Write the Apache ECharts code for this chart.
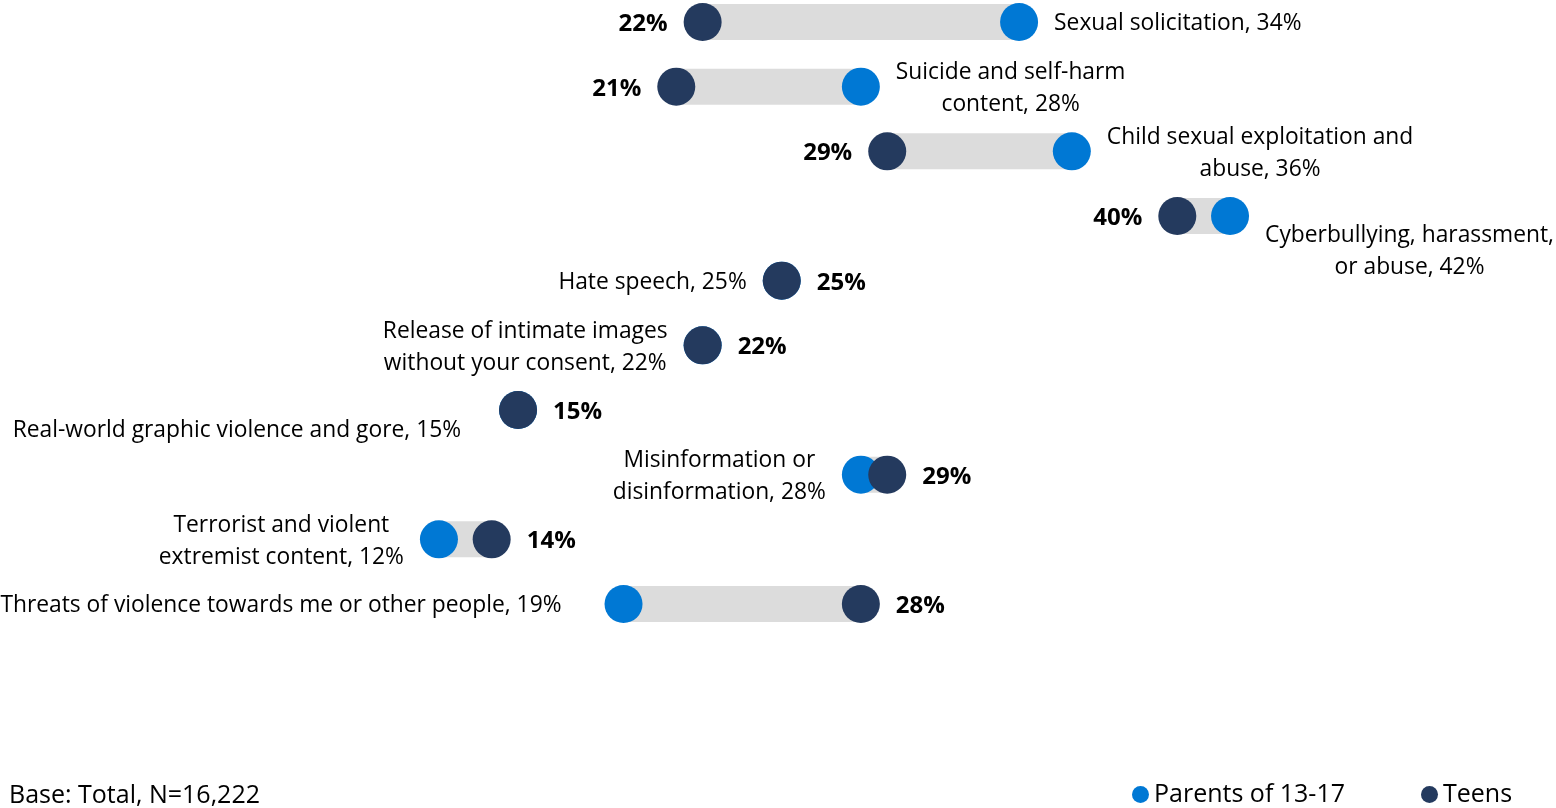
<!DOCTYPE html>
<html>
<head>
<meta charset="utf-8">
<script src="https://cdn.jsdelivr.net/npm/echarts@6/dist/echarts.min.js"></script>
<style>
  html, body { margin: 0; padding: 0; background: #fff; }
  #chart { width: 1556px; height: 808px; }
</style>
</head>
<body>
<div id="chart"></div>
<script>
// 항목 이름 (줄바꿈 포함)
const categories = [
    'Sexual solicitation',
    'Suicide and self-harm\ncontent',
    'Child sexual exploitation and\nabuse',
    'Cyberbullying, harassment,\nor abuse',
    'Hate speech',
    'Release of intimate images\nwithout your consent',
    'Real-world graphic violence and gore',
    'Misinformation or\ndisinformation',
    'Terrorist and violent\nextremist content',
    'Threats of violence towards me or other people'
];
const parents = [34, 28, 36, 42, 25, 22, 15, 28, 12, 19];
const teens = [22, 21, 29, 40, 25, 22, 15, 29, 14, 28];

// 원본에서 밀려 있는 라벨 [dx, dy]
const labelNudge = { 3: [0, 34], 6: [-22, 19], 9: [-27, 0] };

const PARENT_COLOR = '#0078D4';
const TEEN_COLOR = '#243A5E';
const FONT = '"Open Sans", "Noto Sans", sans-serif';
const LABEL_SIZE = 22.8;

const ctx = document.createElement('canvas').getContext('2d');
ctx.font = LABEL_SIZE + 'px ' + FONT;
function textWidth(str) {
    return Math.max(...str.split('\n').map(s => ctx.measureText(s).width));
}

const chart = echarts.init(document.getElementById('chart'));

const parentData = parents.map((p, i) => {
    const text = categories[i] + ', ' + p + '%';
    const w = textWidth(text);
    const right = p > teens[i];
    const nudge = labelNudge[i] || [0, 0];
    return {
        value: [p, i],
        label: {
            position: right ? 'right' : 'left',
            align: 'center',
            offset: [(right ? w / 2 : -w / 2) + nudge[0], 2 + nudge[1]],
            formatter: text
        }
    };
});

const teenData = teens.map((t, i) => ({
    value: [t, i],
    label: {
        position: parents[i] > t ? 'left' : 'right',
        formatter: t + '%'
    }
}));

const option = {
    animation: false,
    grid: { left: 122.5, width: 1318.5, top: 22, height: 582 },
    xAxis: { type: 'value', min: 0, max: 50, show: false },
    yAxis: {
        type: 'category',
        data: categories,
        inverse: true,
        boundaryGap: false,
        show: false
    },
    legend: {
        left: 1127,
        top: 777,
        icon: 'circle',
        itemWidth: 17,
        itemHeight: 17,
        itemGap: 76,
        textStyle: { fontFamily: FONT, fontSize: 25, color: '#000' },
        data: ['Parents of 13-17', 'Teens']
    },
    graphic: [{
        type: 'text',
        left: 9,
        top: 783,
        style: { text: 'Base: Total, N=16,222', font: '25px ' + FONT, fill: '#000' }
    }],
    series: [
        {
            type: 'custom',
            silent: true,
            data: parents.map((p, i) => [p, teens[i], i]),
            encode: { x: [0, 1], y: 2 },
            renderItem: function (params, api) {
                const a = api.coord([Math.min(api.value(0), api.value(1)), api.value(2)]);
                const b = api.coord([Math.max(api.value(0), api.value(1)), api.value(2)]);
                const h = 36;
                return {
                    type: 'rect',
                    shape: { x: a[0], y: a[1] - h / 2, width: b[0] - a[0], height: h },
                    style: { fill: '#DCDCDC' }
                };
            }
        },
        {
            name: 'Parents of 13-17',
            type: 'scatter',
            symbolSize: 38,
            itemStyle: { color: PARENT_COLOR, opacity: 1 },
            label: {
                show: true,
                distance: 16,
                fontFamily: FONT,
                fontSize: LABEL_SIZE,
                lineHeight: 32,
                color: '#000'
            },
            data: parentData
        },
        {
            name: 'Teens',
            type: 'scatter',
            symbolSize: 38,
            itemStyle: { color: TEEN_COLOR, opacity: 1 },
            label: {
                show: true,
                distance: 16,
                offset: [0, 2],
                fontFamily: FONT,
                fontSize: 24,
                fontWeight: 'bold',
                color: '#000'
            },
            data: teenData
        }
    ]
};

chart.setOption(option);
</script>
</body>
</html>
